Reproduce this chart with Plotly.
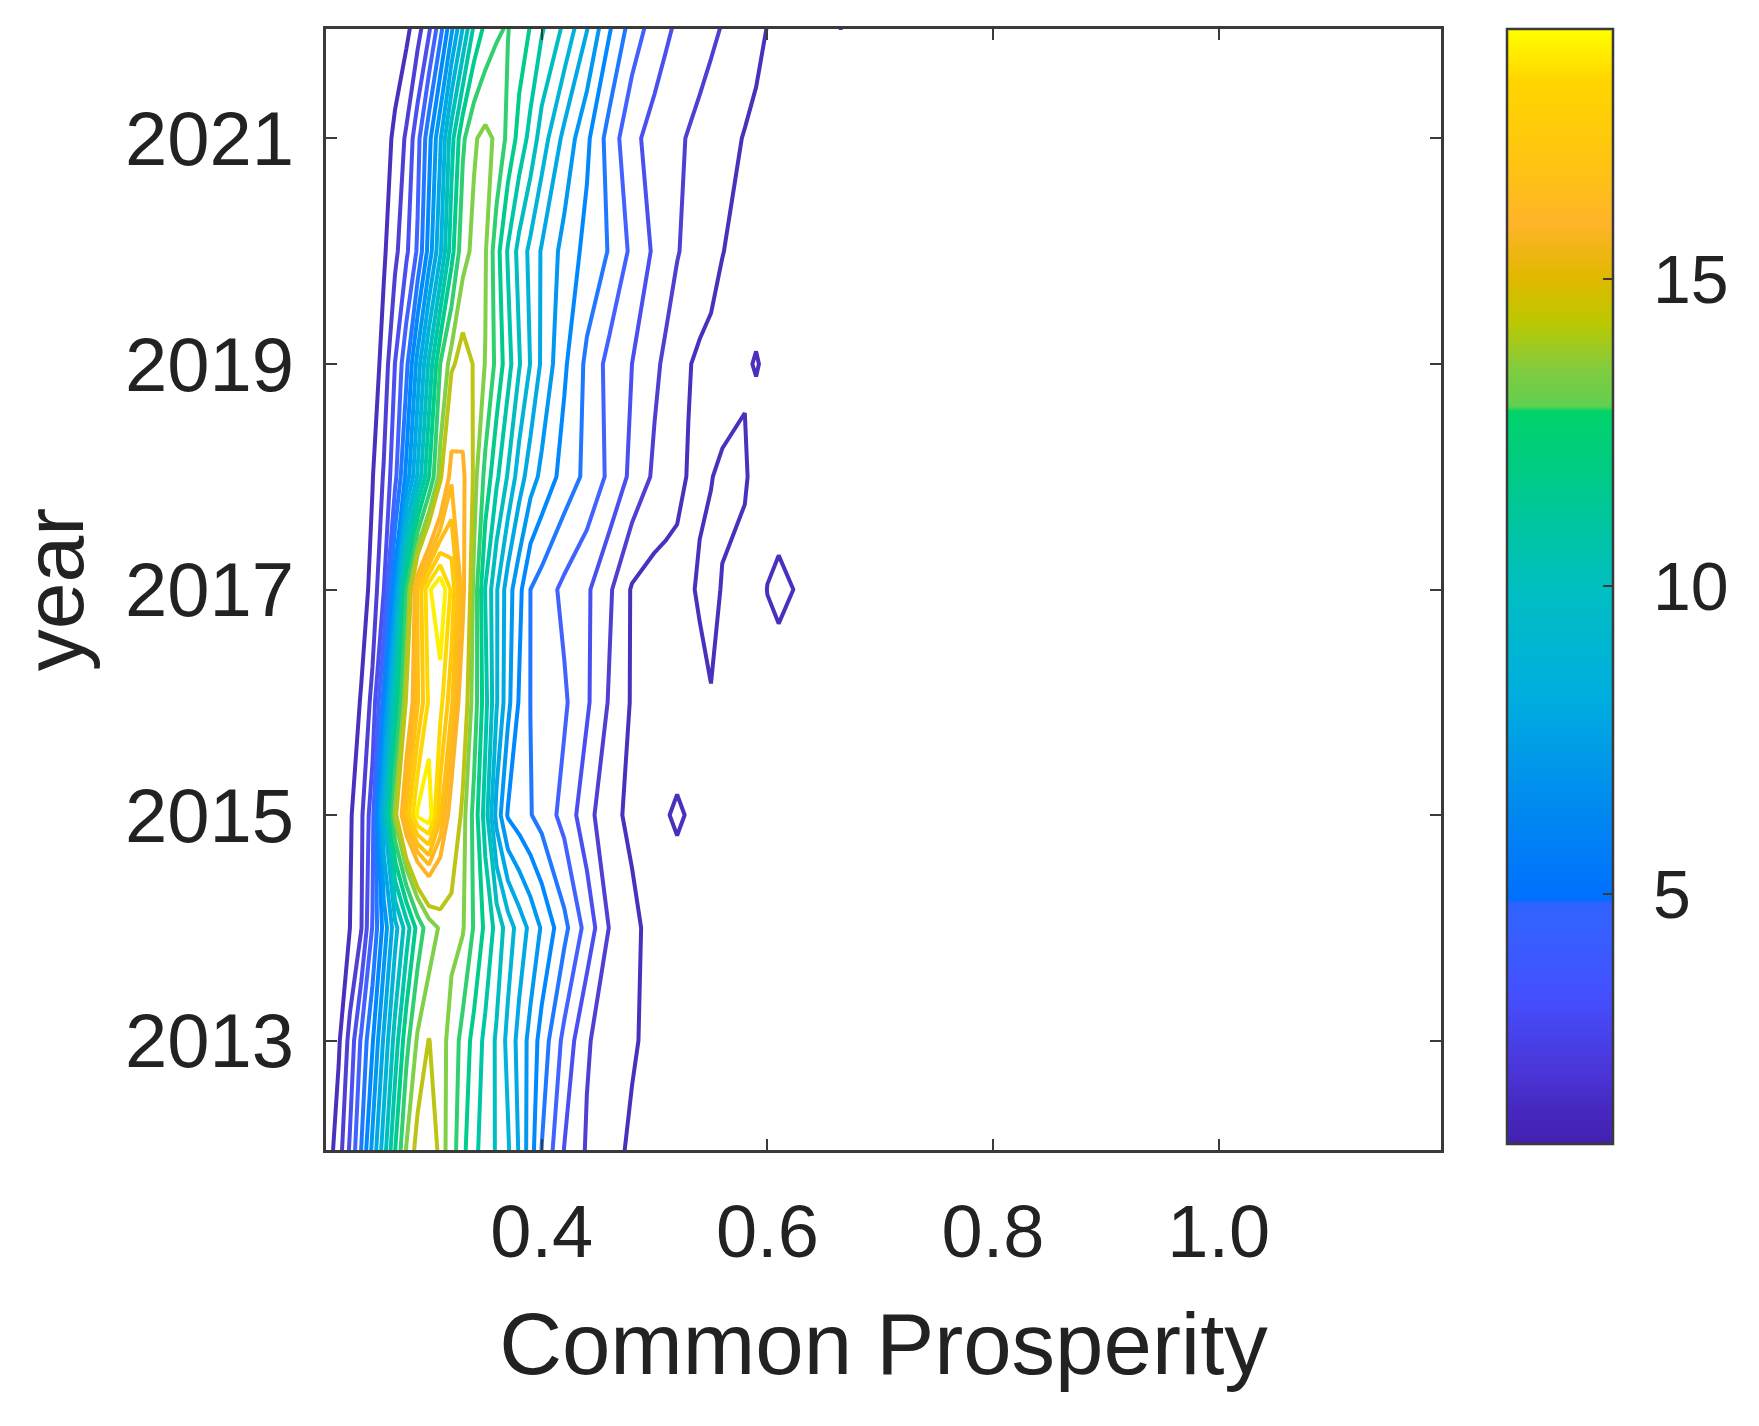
import plotly.graph_objects as go

years = [2012, 2013, 2014, 2015, 2016, 2017, 2018, 2019, 2020, 2021, 2022]
prosperity = [.21, .22, .23, .24, .25, .26, .27, .28, .29, .30, .31, .32, .33, .34, .35, .36, .37, .38, .39, .40,
              .42, .44, .46, .48, .50, .51, .52, .53, .54, .55, .56, .58, .59, .60, .61, .625, .64, .66, .665, .67, .70, 1.2]

density_2012 = [.5, 1.53, 3.17, 5.04, 7.3, 9.56, 12.02, 14.11, 14.85, 15.1, 14.45, 13.5, 12.25, 11.25, 10.55, 9.9, 9.15, 7.9, 6.45, 4.95,
                2.94, 1.9, 1.29, .85, .7, .55, .5, .45, .4, .35, .3, .25, .2, .2, .15, .1, .1, .05, .05, .05, .02, 0]
density_2013 = [.1, .85, 2.33, 4.15, 5.9, 8.16, 10.42, 12.66, 14.15, 14.62, 14.3, 13.73, 12.6, 11.67, 10.74, 9.85, 8.72, 7.66, 6.66, 5.59,
                3.71, 2.09, 1.56, 1.1, .75, .6, .5, .45, .4, .35, .3, .25, .2, .2, .15, .15, .1, .1, .05, .05, .02, 0]
density_2014 = [0, .25, 1.0, 1.94, 4.07, 6.36, 8.62, 10.47, 12.37, 13.57, 14.1, 14.2, 14.1, 12.9, 11.77, 10.65, 9.52, 8.57, 7.74, 6.89,
                5.28, 3.62, 1.95, 1.17, .75, .6, .55, .5, .4, .4, .35, .3, .3, .25, .2, .2, .15, .1, .1, .1, .05, 0]
density_2015 = [0, .2, .85, 1.8, 3.6, 8.9, 14.3, 17.2, 18.6, 18.9, 17.15, 15.5, 14.4, 12.67, 10.55, 7.63, 5.9, 5.47, 5.05, 4.63,
                3.66, 2.41, 1.2, .85, .7, .95, 1.1, .95, .6, .55, .5, .4, .4, .35, .3, .25, .2, .15, .1, .1, .05, 0]
density_2016 = [0, .05, .3, 1.1, 2.3, 5.4, 11.05, 14.8, 16.95, 18.1, 18.2, 17.15, 15.3, 13.6, 11.35, 9.1, 7.3, 5.9, 4.99, 4.7,
                4.15, 3.15, 1.9, .9, .7, .6, .55, .7, .8, .97, .8, .5, .5, .6, .7, .5, .3, .2, .15, .15, .1, 0]
density_2017 = [0, 0, .1, .45, 1.35, 2.97, 6.55, 12.9, 17.05, 18.4, 19.0, 17.9, 16.3, 13.75, 10.95, 9.1, 7.47, 6.3, 5.0, 4.55,
                3.75, 3.16, 2.15, .9, .6, .6, .7, .9, 1.08, 1.15, .97, .6, .6, 1.02, 1.13, .98, .5, .2, .2, .15, .1, 0]
density_2018 = [0, 0, .05, .3, .95, 2.1, 3.7, 6.3, 9.15, 11.97, 14.4, 16.45, 16.3, 14.4, 12.7, 11.2, 9.9, 8.5, 7.47, 6.75,
                5.6, 4.75, 3.8, 2.76, 1.82, 1.52, 1.22, .95, .9, .98, 1.1, 1.13, .6, .6, .7, .5, .3, .2, .15, .15, .1, 0]
density_2019 = [0, 0, 0, .05, .4, 1.38, 3.02, 4.7, 7.4, 10.2, 13.0, 14.45, 14.95, 14.55, 13.97, 12.72, 11.4, 10.09, 8.96, 7.83,
                6.16, 4.78, 3.68, 3.0, 2.19, 1.81, 1.43, 1.05, .85, .78, .7, .9, 1.05, .85, .5, .4, .3, .2, .2, .2, .1, 0]
density_2020 = [0, 0, 0, .05, .3, .85, 1.74, 2.81, 4.15, 6.38, 8.8, 11.6, 13.7, 14.2, 14.1, 12.4, 10.9, 9.66, 8.74, 7.9,
                6.65, 5.7, 4.93, 3.78, 2.84, 2.45, 2.06, 1.78, 1.53, 1.27, 1.02, .75, .6, .6, .5, .4, .3, .25, .25, .2, .1, 0]
density_2021 = [0, 0, 0, 0, .1, .5, 1.24, 2.16, 3.66, 5.65, 7.84, 10.6, 12.8, 13.9, 14.25, 13.85, 12.72, 11.66, 10.66, 9.53,
                7.71, 6.21, 4.58, 3.25, 2.63, 2.4, 2.16, 1.94, 1.73, 1.52, 1.32, .95, .8, .65, .55, .45, .35, .5, .5, .45, .2, 0]
density_2022 = [0, 0, 0, 0, .05, .1, .3, .7, 1.55, 2.75, 4.53, 6.68, 8.94, 11.11, 12.19, 12.85, 13.05, 12.52, 11.97, 11.16,
                9.84, 8.1, 6.14, 4.59, 3.57, 3.18, 2.88, 2.65, 2.43, 2.2, 1.97, 1.5, 1.24, .99, .8, .6, .4, .7, 1.02, .7, .2, 0]

density = [density_2012, density_2013, density_2014, density_2015, density_2016, density_2017,
           density_2018, density_2019, density_2020, density_2021, density_2022]

levels = [1, 2, 3, 4, 5, 6, 7, 8, 9, 10, 11, 12, 13, 14, 14.6, 16, 16.55, 17, 17.5, 18, 18.5]
level_colors = ["#4B30BE", "#4F3FD2", "#4B4FEF", "#4162FF", "#1F78FF", "#0088FF", "#0098F0", "#00A8E4",
                "#00B4D8", "#00BEC0", "#00C6A8", "#00CC8C", "#30D070", "#80D048", "#BCC414", "#FFB428",
                "#FFB81E", "#FFBE14", "#FFC80A", "#FFD800", "#FFF000"]

bar_values = [.93, 1.5, 2.1, 3.36, 4.6, 4.84, 4.9, 6.3, 8.2, 10, 12, 12.85, 12.92, 13.5, 14.3, 15, 15.9, 17, 18.2, 19.06]
bar_colors = ["#4420B0", "#4628C0", "#4A35D8", "#4450FF", "#3362FF", "#3060FF", "#0070FF", "#0088F0", "#00AEE0",
              "#00BFC0", "#00CC80", "#00D46A", "#60D050", "#80CC40", "#BCC800", "#E0B800", "#FFB428", "#FFC610",
              "#FFD500", "#FFFF00"]

bar_tick_values = [5, 10, 15]
bar_tick_labels = ["\u00a0\u200a5", "\u00a0\u200a10", "\u00a0\u200a15"]

font = "Liberation Sans, Arial, sans-serif"
ink = "#222222"
frame = "#3a3a3a"

fig = go.Figure()

for level, color in zip(levels, level_colors):
    fig.add_trace(go.Contour(
        x=prosperity, y=years, z=density,
        autocontour=False,
        contours=dict(start=level, end=level, size=1, coloring="lines", showlabels=False),
        colorscale=[[0, color], [1, color]],
        showscale=False,
        line=dict(width=4, smoothing=0),
        hoverinfo="skip",
    ))

bar_span = bar_values[-1] - bar_values[0]
fig.add_trace(go.Heatmap(
    x=[3, 4], y=[2040, 2041], z=[[bar_values[0], bar_values[-1]], [bar_values[0], bar_values[-1]]],
    zmin=bar_values[0], zmax=bar_values[-1],
    colorscale=[[(v - bar_values[0]) / bar_span, c] for v, c in zip(bar_values, bar_colors)],
    hoverinfo="skip",
    colorbar=dict(
        x=1.0592, xanchor="left", xpad=0, y=1, yanchor="top", ypad=0,
        len=0.9946, lenmode="fraction", thickness=106, thicknessmode="pixels",
        outlinewidth=2.5, outlinecolor=frame,
        tickmode="array", tickvals=bar_tick_values, ticktext=bar_tick_labels,
        ticks="inside", ticklen=11, tickwidth=2, tickcolor=frame,
        tickfont=dict(family=font, size=68, color=ink),
    ),
))

fig.update_layout(
    width=1759, height=1426, autosize=False,
    margin=dict(l=326, r=318, t=29, b=276, pad=0),
    plot_bgcolor="white", paper_bgcolor="white",
    showlegend=False,
    font=dict(family=font, color=ink),
    xaxis=dict(
        range=[0.2088, 1.197], tickmode="array", tickvals=[0.4, 0.6, 0.8, 1.0], ticktext=["0.4", "0.6", "0.8", "1.0"],
        ticks="inside", ticklen=11, tickwidth=2, tickcolor=frame,
        showline=True, linecolor=frame, linewidth=2.5, mirror="ticks",
        showgrid=False, zeroline=False, ticklabelstandoff=15,
        tickfont=dict(family=font, size=74, color=ink),
        title=dict(text="Common Prosperity", font=dict(family=font, size=87, color=ink), standoff=42),
    ),
    yaxis=dict(
        range=[2012.03, 2021.97], tickmode="array", tickvals=[2013, 2015, 2017, 2019, 2021],
        ticktext=["2013", "2015", "2017", "2019", "2021"],
        ticks="inside", ticklen=11, tickwidth=2, tickcolor=frame,
        showline=True, linecolor=frame, linewidth=2.5, mirror="ticks",
        showgrid=False, zeroline=False, ticklabelstandoff=14,
        tickfont=dict(family=font, size=76, color=ink),
        title=dict(text="year", font=dict(family=font, size=84, color=ink), standoff=14),
    ),
)

fig.write_html("out.html", config={"displayModeBar": False}, post_script="document.body.style.margin='0';")
